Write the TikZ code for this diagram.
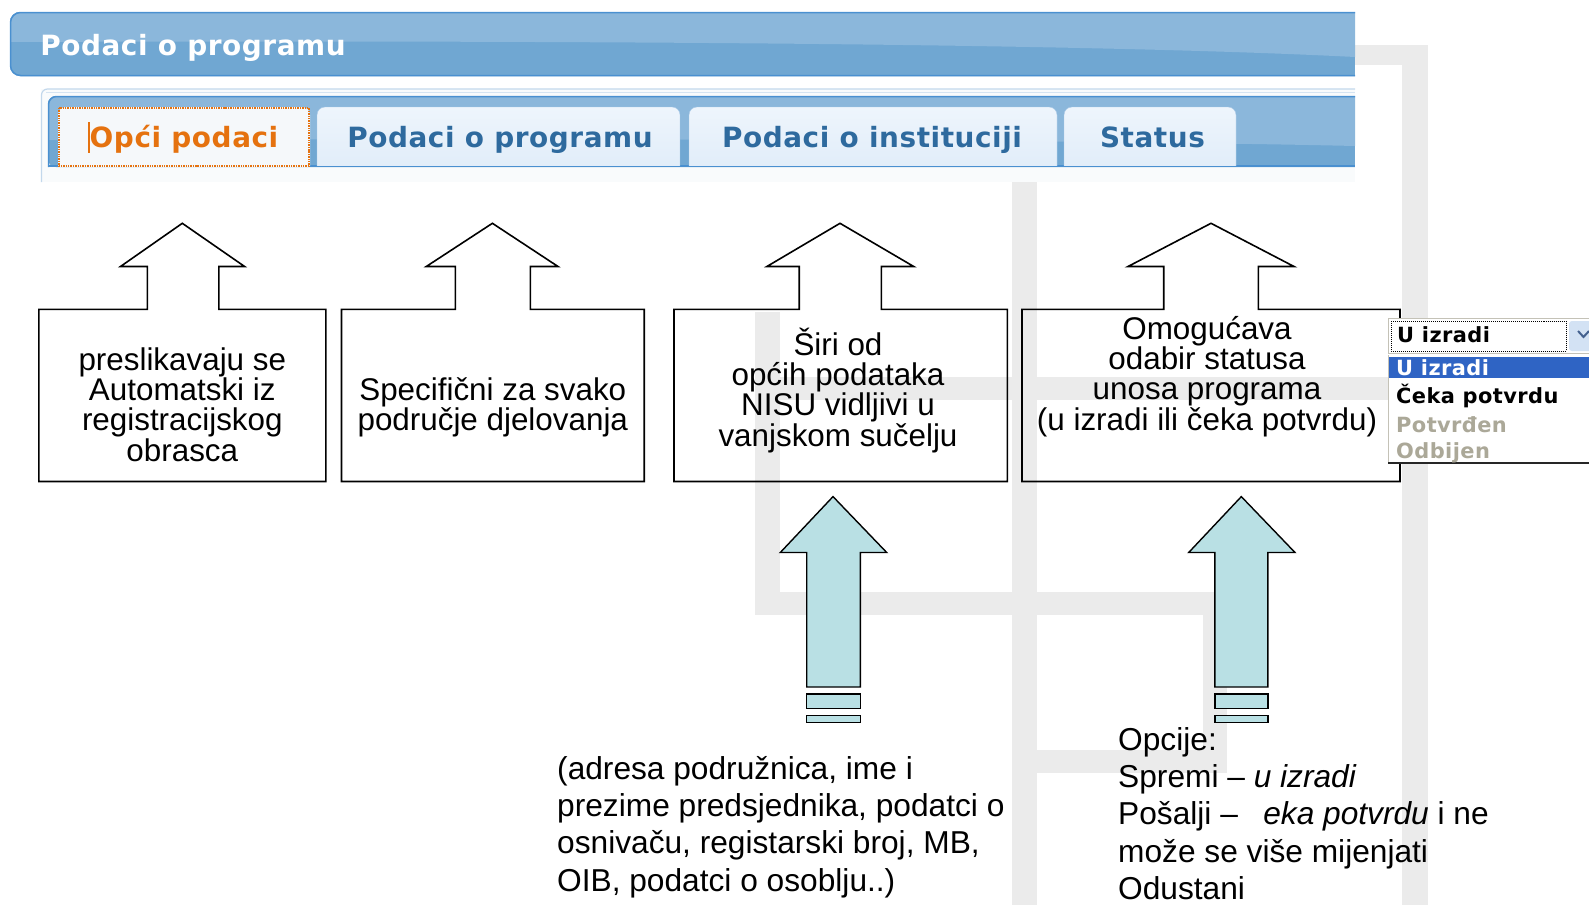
\documentclass[tikz,border=0pt]{standalone}
\usepackage{fontspec}
\setmainfont{Liberation Sans}
\newfontfamily\uifont{DejaVu Sans}[LetterSpace=2]
\definecolor{wmgrey}{HTML}{EBEBEB}
\definecolor{hdrlight}{HTML}{8BB7DB}
\definecolor{hdrdark}{HTML}{70A7D2}
\definecolor{hdrborder}{HTML}{4A90D0}
\definecolor{tabblue}{HTML}{2E6A9E}
\definecolor{taborange}{HTML}{E5720F}
\definecolor{tabtop}{HTML}{EEF5FC}
\definecolor{tabbot}{HTML}{DCEAF8}
\definecolor{tabedge}{HTML}{A8C8E6}
\definecolor{tabonebg}{HTML}{F5F8FA}
\definecolor{panelbg}{HTML}{F9FBFC}
\definecolor{panelline}{HTML}{C3D8EC}
\definecolor{arrowcyan}{HTML}{B9E0E4}
\definecolor{ddhl}{HTML}{2F64C4}
\definecolor{ddgrey}{HTML}{ABA898}
\definecolor{btnblue}{HTML}{D3E2F4}
\definecolor{chev}{HTML}{44618F}
\lineskiplimit=-100pt
\begin{document}
\begin{tikzpicture}[x=1bp,y=-1bp,
  wm/.style={fill=wmgrey},
  callout/.style={draw=black,line width=1.6bp,line join=miter},
  cyanarrow/.style={draw=black,line width=1.4bp,fill=arrowcyan,line join=miter},
  boxtext/.style={inner sep=0pt,anchor=base},
  notetext/.style={inner sep=0pt,anchor=base west},
  uitext/.style={font=\uifont\bfseries\fontsize{28}{30}\selectfont,inner sep=0pt,anchor=base},
  ddtext/.style={font=\uifont\bfseries\fontsize{21}{22}\selectfont,inner sep=0pt,anchor=base west},
]
\useasboundingbox (0,0) rectangle (1589,905);

% faint watermark frame
\fill[wm] (1000,45) rectangle (1428,65);
\fill[wm] (1402,45) rectangle (1428,905);
\fill[wm] (1012,150) rectangle (1037,905);
\fill[wm] (755,377) rectangle (1402,400);
\fill[wm] (755,312) rectangle (780,615);
\fill[wm] (755,592) rectangle (1227,615);
\fill[wm] (1203,592) rectangle (1227,773);
\fill[wm] (1012,750) rectangle (1227,773);

% screenshot area
\fill[white] (0,0) rectangle (1355,182);
\fill[panelbg] (41,89) rectangle (1355,182);
\draw[panelline,line width=1.2bp] (41.5,182) [rounded corners=6]-- (41.5,89) -- (1355,89);
\draw[panelline!70,line width=1bp] (46,92) -- (1355,92);

% header bar
\begin{scope}
  \clip (1355,12) [rounded corners=10]-- (10,12) -- (10,76) [sharp corners]-- (1355,76) -- cycle;
  \fill[hdrdark] (0,0) rectangle (1355,80);
  \fill[hdrlight] (0,0) -- (0,42) .. controls (600,40) and (1100,44) .. (1355,57) -- (1355,0) -- cycle;
\end{scope}
\draw[hdrborder,line width=1.5bp] (1355,12.5) [rounded corners=10]-- (10.5,12.5) -- (10.5,75.5) [sharp corners]-- (1355,75.5);
\node[uitext,text=white] (hdr) at (193,55.5) {Podaci o programu};

% tab bar
\begin{scope}
  \clip (1355,96) [rounded corners=8]-- (48,96) -- (48,167) [sharp corners]-- (1355,167) -- cycle;
  \fill[hdrdark] (0,90) rectangle (1355,170);
  \fill[hdrlight] (0,90) -- (0,140) .. controls (600,138) and (1100,140) .. (1355,146) -- (1355,90) -- cycle;
\end{scope}
\draw[hdrborder,line width=1.5bp] (1355,96.5) [rounded corners=8]-- (48.5,96.5) -- (48.5,167);
\draw[hdrborder,line width=2bp] (48,166) -- (1355,166);

% tabs
\begin{scope}
  \clip (0,0) rectangle (1355,165);
  \fill[tabonebg,rounded corners=8] (58,107) rectangle (310,190);
  \shade[top color=tabtop,bottom color=tabbot,rounded corners=8] (317,107) rectangle (680,190);
  \draw[tabedge,rounded corners=8] (317,107) rectangle (680,190);
  \shade[top color=tabtop,bottom color=tabbot,rounded corners=8] (689,107) rectangle (1057,190);
  \draw[tabedge,rounded corners=8] (689,107) rectangle (1057,190);
  \shade[top color=tabtop,bottom color=tabbot,rounded corners=8] (1064,107) rectangle (1236,190);
  \draw[tabedge,rounded corners=8] (1064,107) rectangle (1236,190);
\end{scope}
\fill[tabonebg] (58,160) rectangle (310,167);
\draw[taborange,densely dotted,line width=1.4bp] (59,108) rectangle (309,166);
\draw[taborange,line width=1.2bp] (89,122) -- (89,153);
\node[uitext,text=taborange] (t1) at (184,147) {Opći podaci};
\node[uitext,text=tabblue] (t2) at (500,147) {Podaci o programu};
\node[uitext,text=tabblue] (t3) at (872,147) {Podaci o instituciji};
\node[uitext,text=tabblue] (t4) at (1152.5,147) {Status};

% callout boxes with up arrows
\draw[callout] (38.8,309.3) -- (147.3,309.3) -- (147.3,266.5) -- (120.5,266.5) -- (182.3,223.3) -- (244.6,266.5) -- (218.8,266.5) -- (218.8,309.3) -- (325.9,309.3) -- (325.9,481.5) -- (38.8,481.5) -- cycle;
\draw[callout] (341.5,309.3) -- (455.4,309.3) -- (455.4,266.5) -- (426.3,266.5) -- (492.4,223.3) -- (558,266.5) -- (530.4,266.5) -- (530.4,309.3) -- (644.2,309.3) -- (644.2,481.5) -- (341.5,481.5) -- cycle;
\draw[callout] (674,309.3) -- (799.2,309.3) -- (799.2,266.5) -- (766.9,266.5) -- (840,223.3) -- (913.7,266.5) -- (881.4,266.5) -- (881.4,309.3) -- (1007.3,309.3) -- (1007.3,481.5) -- (674,481.5) -- cycle;
\draw[callout] (1022,309.3) -- (1163.7,309.3) -- (1163.7,266.5) -- (1128,266.5) -- (1211,223.3) -- (1294,266.5) -- (1258.4,266.5) -- (1258.4,309.3) -- (1400,309.3) -- (1400,481.5) -- (1022,481.5) -- cycle;

\node[boxtext] (b1) at (182.3,370) {\parbox[t]{280bp}{\centering\fontsize{31.5}{30.5}\selectfont preslikavaju se\\Automatski iz\\registracijskog\\obrasca}};
\node[boxtext] (b2) at (492.8,400) {\parbox[t]{300bp}{\centering\fontsize{31.5}{30.5}\selectfont Specifični za svako\\područje djelovanja}};
\node[boxtext] (b3) at (838,355) {\parbox[t]{330bp}{\centering\fontsize{31.5}{30.5}\selectfont Širi od\\općih podataka\\NISU vidljivi u\\vanjskom sučelju}};
\node[boxtext] (b4) at (1207,339) {\parbox[t]{380bp}{\centering\fontsize{31.5}{30.5}\selectfont Omogućava\\odabir statusa\\unosa programa\\(u izradi ili čeka potvrdu)}};

% dropdown
\fill[white] (1388,318) rectangle (1589,464);
\draw[ddgrey!70,line width=1bp] (1388.5,318.5) rectangle (1600,353);
\draw[black,densely dotted,line width=1bp] (1391,321) rectangle (1566,351);
\fill[btnblue,rounded corners=3] (1569,321) rectangle (1600,351);
\draw[chev,line width=2bp] (1578,331) -- (1583.5,337) -- (1589,331);
\draw[ddgrey!70,line width=1bp] (1388.5,355) -- (1388.5,463);
\fill[ddhl] (1389,357) rectangle (1589,378);
\draw[black!85,line width=1.6bp] (1388,463) -- (1589,463);
\node[ddtext,text=black] (dd0) at (1397,342.5) {U izradi};
\node[ddtext,text=white] (dd1) at (1396,375.5) {U izradi};
\node[ddtext,text=black] (dd2) at (1396,403) {Čeka potvrdu};
\node[ddtext,text=ddgrey] (dd3) at (1396,432) {Potvrđen};
\node[ddtext,text=ddgrey] (dd4) at (1396,458) {Odbijen};

% cyan arrows
\draw[cyanarrow] (833,496.6) -- (886.7,552.5) -- (860.3,552.5) -- (860.3,687) -- (806.7,687) -- (806.7,552.5) -- (780.3,552.5) -- cycle;
\draw[cyanarrow] (806.7,694) rectangle (860.3,708.5);
\draw[cyanarrow] (806.7,715.5) rectangle (860.3,722.5);
\draw[cyanarrow] (1241.3,496.6) -- (1295,552.5) -- (1267.8,552.5) -- (1267.8,687) -- (1214.8,687) -- (1214.8,552.5) -- (1188.7,552.5) -- cycle;
\draw[cyanarrow] (1214.8,694) rectangle (1267.8,708.5);
\draw[cyanarrow] (1214.8,715.5) rectangle (1267.8,722.5);

% notes
\node[notetext] (n1) at (557,779) {\parbox[t]{480bp}{\raggedright\fontsize{31.8}{37.5}\selectfont (adresa podružnica, ime i\\prezime predsjednika, podatci o\\osnivaču, registarski broj, MB,\\OIB, podatci o osoblju..)}};
\node[notetext] (n2) at (1118,750) {\parbox[t]{470bp}{\raggedright\fontsize{31.8}{37.6}\selectfont Opcije:\\Spremi – \textit{u izradi}\\Pošalji –\hspace{0.8em}\textit{eka potvrdu} i ne\\može se više mijenjati\\Odustani}};
\end{tikzpicture}
\end{document}
